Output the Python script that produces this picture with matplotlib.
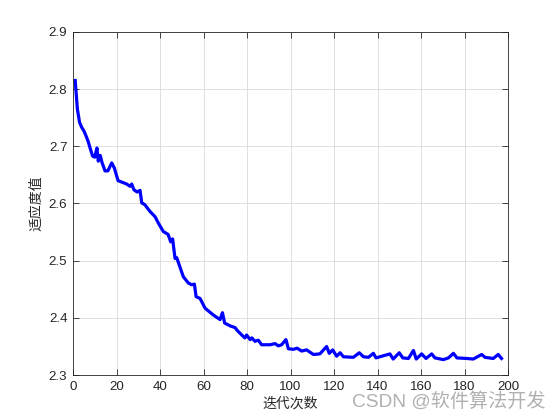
import matplotlib
matplotlib.use('Agg')
import matplotlib.pyplot as plt

plt.rcParams['font.family'] = ['Liberation Sans', 'Noto Sans CJK SC', 'DejaVu Sans']

# 迭代次数与适应度值
iters = [1, 1.5, 2, 3, 4, 5, 6, 7, 8, 9, 10, 11, 11.6, 12.5, 13.3, 14.7, 16, 17.8, 19,
         20.7, 22, 24.7, 26.2, 27, 28, 29.5, 30.8, 31.6, 33, 35.4, 37.7, 39.2, 41.5,
         43.7, 44.9, 45.8, 46.9, 47.7, 50.7, 53, 54.5, 55.8, 56.6, 58.4, 60.7, 64.5,
         67.6, 68.7, 69.7, 72.2, 74.5, 75.5, 77.6, 79, 79.8, 81.4, 82.2, 83.7, 85.2,
         86.7, 89, 90.6, 92.9, 94.4, 95.9, 97.9, 99, 101.3, 103, 105.1, 107.4, 110.5,
         113.5, 116.6, 117.8, 119.4, 121.2, 122.8, 124.3, 128.9, 131.6, 133.5, 135.8,
         138.1, 139.3, 141.1, 145.7, 147.2, 150, 151.6, 154.2, 156.5, 157.8, 160.3,
         162.3, 164.9, 166.4, 170.3, 172.6, 174.9, 176.5, 181, 184, 187.9, 189.4,
         193.2, 195.5, 197]
fitness = [2.815, 2.79, 2.765, 2.742, 2.733, 2.727, 2.718, 2.708, 2.695, 2.683, 2.681,
           2.697, 2.674, 2.684, 2.672, 2.657, 2.657, 2.671, 2.662, 2.640, 2.638, 2.634,
           2.630, 2.634, 2.624, 2.620, 2.623, 2.601, 2.598, 2.586, 2.577, 2.566, 2.551,
           2.546, 2.533, 2.538, 2.504, 2.505, 2.472, 2.461, 2.458, 2.459, 2.437, 2.434,
           2.417, 2.405, 2.397, 2.409, 2.391, 2.386, 2.383, 2.378, 2.370, 2.365, 2.370,
           2.362, 2.365, 2.359, 2.361, 2.353, 2.353, 2.353, 2.355, 2.351, 2.353, 2.362,
           2.346, 2.345, 2.347, 2.342, 2.344, 2.336, 2.337, 2.350, 2.338, 2.344, 2.333,
           2.339, 2.332, 2.331, 2.339, 2.332, 2.331, 2.338, 2.330, 2.332, 2.337, 2.328,
           2.339, 2.330, 2.329, 2.343, 2.328, 2.337, 2.329, 2.337, 2.330, 2.327, 2.330,
           2.338, 2.330, 2.329, 2.328, 2.336, 2.331, 2.329, 2.336, 2.329]

xticks = [0, 20, 40, 60, 80, 100, 120, 140, 160, 180, 200]
yticks = [2.3, 2.4, 2.5, 2.6, 2.7, 2.8, 2.9]

fig = plt.figure(figsize=(5.6, 4.2), dpi=100)
ax = fig.add_axes([0.1304, 0.107, 0.7768, 0.817])

ax.plot(iters, fitness, color='#0000ff', linewidth=2.3)

ax.set_xlim(0, 200)
ax.set_ylim(2.3, 2.9)
ax.set_xticks(xticks)
ax.set_yticks(yticks)
ax.set_yticklabels(['%.1f' % v for v in yticks])
ax.grid(True, color='#d9d9d9', linewidth=0.6)
ax.set_axisbelow(True)
ax.tick_params(direction='in', top=True, right=True, length=4, width=0.6,
               labelsize=9.6, colors='#262626', pad=4)
for s in ax.spines.values():
    s.set_color('#262626')
    s.set_linewidth(0.6)

ax.set_xlabel('迭代次数', family=['Noto Sans CJK SC'], fontsize=10, color='#262626', labelpad=3)
ax.set_ylabel('适应度值', family=['Noto Sans CJK SC'], fontsize=10, color='#262626', labelpad=4)

# 水印
fig.text(0.975, 0.043, 'CSDN @软件算法开发', family=['Liberation Sans', 'Noto Sans CJK SC'],
         fontsize=13.8, color='#a8a8a8', alpha=0.9, ha='right', va='center')

fig.savefig('out.png', dpi=100)
